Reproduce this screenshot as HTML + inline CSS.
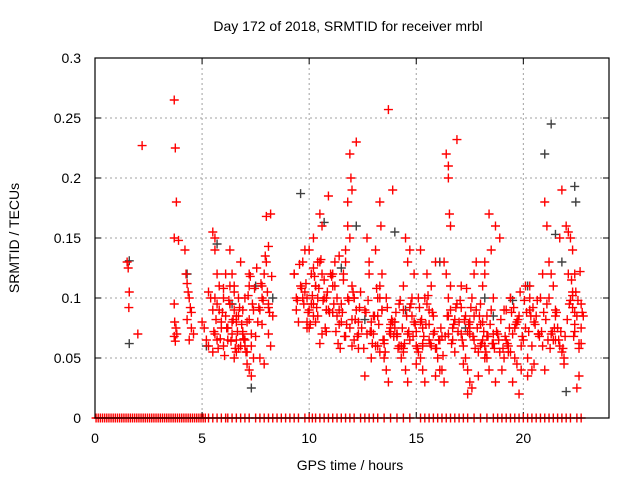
<!DOCTYPE html>
<html><head><meta charset="utf-8"><style>
body{margin:0;background:#fff}
svg text{font-family:"Liberation Sans",sans-serif;font-size:14px;fill:#000}
</style></head><body>
<svg id="chart" width="640" height="480" xmlns="http://www.w3.org/2000/svg">
<text x="348" y="31" text-anchor="middle">Day 172 of 2018, SRMTID for receiver mrbl</text>
<text x="350" y="470" text-anchor="middle">GPS time / hours</text>
<text transform="translate(19,238) rotate(-90)" text-anchor="middle">SRMTID / TECUs</text>
<g id="grid"></g>
<g id="ticks"></g>
<g id="marks"></g>
<rect x="95" y="58" width="514" height="360" fill="none" stroke="#000" stroke-width="1.2"/>
</svg>
<script>
const xTicks=[0,5,10,15,20];
const yTicks=[0,0.05,0.1,0.15,0.2,0.25,0.3];
const yTickLabels=["0","0.05","0.1","0.15","0.2","0.25","0.3"];
const redTimes=[1.5,1.55,1.6,1.58,2.2,2.0,3.7,3.75,3.8,3.7,3.9,3.7,3.72,3.78,3.7,3.75,3.82,4.2,4.25,4.3,4.35,4.4,4.45,4.5,4.3,4.5,4.6,4.4,5.0,5.1,5.2,5.3,5.3,5.4,5.5,5.5,5.6,5.6,5.7,5.8,5.6,5.7,5.8,5.9,5.9,5.6,5.7,5.5,6.0,6.1,6.2,6.3,6.4,6.5,6.6,6.7,6.8,6.9,6.0,6.2,6.4,6.6,6.8,6.1,6.3,6.5,6.7,6.9,6.2,6.4,6.6,6.3,6.5,6.5,6.7,7.0,7.1,7.2,7.3,7.4,7.0,7.2,7.4,7.1,7.3,7.0,7.2,7.3,7.1,7.6,7.7,7.8,7.9,8.0,8.1,8.2,7.7,7.9,8.1,8.3,8.0,8.1,7.8,8.2,9.3,9.4,9.4,9.5,9.3,9.6,9.7,9.8,9.9,10.0,10.1,10.2,10.3,10.4,10.5,10.6,10.7,10.8,10.9,9.7,9.9,10.1,10.3,10.5,10.7,10.9,9.8,10.0,10.2,10.4,10.6,10.8,10.0,10.3,10.6,10.4,10.2,11.0,11.1,11.2,11.3,11.4,11.5,11.6,11.7,11.8,11.9,12.0,12.1,12.2,12.3,12.4,11.1,11.3,11.5,11.7,11.9,12.1,12.3,11.2,11.4,11.6,11.8,12.0,12.2,11.9,11.95,12.0,11.8,12.1,12.6,12.7,12.8,12.9,12.6,12.8,12.7,12.9,13.0,13.1,13.2,13.3,13.4,13.5,13.6,13.7,13.8,13.9,13.0,13.2,13.4,13.6,13.8,13.1,13.3,13.5,13.7,13.9,13.3,13.35,13.3,13.4,14.0,14.1,14.2,14.3,14.4,14.5,14.6,14.7,14.8,14.9,14.0,14.2,14.4,14.6,14.8,14.1,14.3,14.5,14.7,14.9,14.4,14.6,15.0,15.1,15.2,15.3,15.4,15.5,15.6,15.7,15.8,15.9,15.1,15.3,15.5,15.7,15.9,15.0,15.2,15.4,15.6,15.8,15.2,15.3,16.0,16.1,16.2,16.3,16.4,16.5,16.6,16.7,16.8,16.9,16.1,16.3,16.5,16.7,16.9,16.4,16.5,16.5,16.55,16.6,16.5,16.6,17.0,17.1,17.2,17.3,17.4,17.5,17.6,17.7,17.8,17.9,17.1,17.3,17.5,17.7,17.9,17.2,17.4,17.6,17.8,17.5,17.5,18.0,18.1,18.2,18.3,18.4,18.5,18.6,18.7,18.8,18.9,18.1,18.3,18.5,18.7,18.9,18.0,18.2,18.4,18.6,18.2,18.2,18.1,19.0,19.1,19.2,19.3,19.4,19.5,19.6,19.7,19.8,19.9,19.1,19.3,19.5,19.7,19.9,19.2,19.4,19.6,19.8,19.4,20.0,20.1,20.2,20.3,20.4,20.5,20.6,20.7,20.8,20.9,20.1,20.3,20.5,20.7,20.9,20.2,20.4,20.3,21.0,21.1,21.2,21.3,21.4,21.5,21.6,21.7,21.8,21.9,21.1,21.3,21.5,21.7,21.9,21.0,21.5,21.2,21.4,21.8,22.0,22.1,22.2,22.3,22.4,22.5,22.6,22.7,22.8,22.1,22.3,22.5,22.7,22.2,22.4,22.6,22.3,22.35,22.3,22.4,22.4,22.6,22.7,
5.55,5.65,5.75,5.85,5.95,6.05,6.15,6.25,6.35,6.45,6.55,6.65,6.75,6.85,6.95,7.05,7.15,7.25,7.35,7.45,7.55,7.65,7.75,7.85,7.95,8.05,8.15,8.25,9.45,9.55,9.65,9.75,9.85,9.95,10.05,10.15,10.25,10.35,10.45,10.55,10.65,10.75,10.85,10.95,11.05,11.15,11.25,11.35,11.45,11.55,11.65,11.75,11.85,12.05,12.15,12.25,12.35,12.45,12.55,12.65,12.75,12.85,12.95,13.05,13.15,13.25,13.45,13.55,13.65,13.75,13.85,13.95,14.05,14.15,14.25,14.35,14.45,14.55,14.65,14.75,14.85,14.95,15.05,15.15,15.25,15.35,15.45,15.55,15.65,15.75,15.85,15.95,16.05,16.15,16.25,16.35,16.45,16.65,16.75,16.85,16.95,17.05,17.15,17.25,17.35,17.45,17.55,17.65,17.75,17.85,17.95,18.05,18.15,18.25,18.35,18.45,18.55,18.65,18.75,18.85,18.95,19.05,19.15,19.25,19.35,19.45,19.55,19.65,19.75,19.85,19.95,20.05,20.15,20.25,20.35,20.45,20.55,20.65,20.75,20.85,20.95,21.05,21.15,21.25,21.35,21.45,21.55,21.65,21.75,21.85,21.95,22.05,22.15,22.25,22.45,22.55,22.65,22.75,
6.0,6.3,6.6,6.9,7.2,7.5,7.8,8.1,9.9,10.2,10.5,10.8,11.1,11.4,11.7,12.0,12.3,12.9,13.2,13.5,13.8,14.1,14.4,14.7,15.0,15.3,15.6,15.9,16.2,16.8,17.1,17.4,17.7,18.0,18.3,18.6,18.9,19.2,19.5,19.8,20.1,20.4,20.7,21.0,21.3,21.6,21.9,22.2,22.5];
const redValues=[0.13,0.125,0.105,0.092,0.227,0.07,0.265,0.225,0.18,0.15,0.148,0.095,0.08,0.075,0.068,0.064,0.07,0.14,0.12,0.112,0.105,0.1,0.092,0.088,0.082,0.075,0.07,0.065,0.08,0.075,0.065,0.06,0.105,0.1,0.09,0.155,0.15,0.14,0.12,0.11,0.1,0.095,0.09,0.08,0.075,0.07,0.065,0.055,0.1,0.085,0.075,0.11,0.12,0.09,0.08,0.1,0.13,0.07,0.06,0.065,0.07,0.055,0.06,0.12,0.095,0.105,0.085,0.09,0.075,0.08,0.065,0.14,0.11,0.05,0.058,0.06,0.045,0.04,0.07,0.09,0.1,0.12,0.05,0.08,0.035,0.065,0.11,0.06,0.055,0.08,0.09,0.1,0.12,0.13,0.07,0.06,0.05,0.045,0.095,0.085,0.168,0.143,0.11,0.17,0.12,0.1,0.09,0.08,0.12,0.11,0.13,0.14,0.1,0.09,0.12,0.15,0.11,0.13,0.17,0.12,0.1,0.09,0.185,0.1,0.08,0.095,0.11,0.13,0.115,0.09,0.105,0.14,0.125,0.085,0.16,0.1,0.075,0.08,0.07,0.1,0.095,0.12,0.11,0.13,0.1,0.09,0.08,0.12,0.14,0.16,0.15,0.11,0.1,0.09,0.07,0.105,0.12,0.085,0.095,0.13,0.075,0.065,0.08,0.11,0.135,0.115,0.1,0.06,0.23,0.22,0.2,0.19,0.18,0.1,0.09,0.07,0.12,0.05,0.035,0.13,0.15,0.08,0.07,0.06,0.1,0.11,0.09,0.05,0.04,0.03,0.07,0.08,0.085,0.06,0.12,0.1,0.075,0.14,0.055,0.065,0.257,0.19,0.18,0.16,0.1,0.09,0.08,0.07,0.06,0.05,0.11,0.04,0.03,0.065,0.085,0.12,0.075,0.095,0.055,0.13,0.1,0.07,0.06,0.15,0.14,0.08,0.09,0.07,0.06,0.1,0.05,0.04,0.03,0.12,0.065,0.11,0.085,0.13,0.055,0.075,0.095,0.06,0.035,0.045,0.14,0.1,0.09,0.07,0.08,0.06,0.05,0.065,0.04,0.03,0.12,0.085,0.11,0.075,0.055,0.095,0.04,0.13,0.07,0.065,0.232,0.22,0.21,0.2,0.17,0.16,0.1,0.09,0.08,0.07,0.06,0.05,0.04,0.03,0.1,0.065,0.09,0.055,0.11,0.085,0.075,0.12,0.035,0.045,0.02,0.025,0.13,0.08,0.07,0.06,0.11,0.12,0.05,0.04,0.09,0.1,0.03,0.07,0.055,0.065,0.085,0.14,0.16,0.15,0.095,0.13,0.17,0.07,0.06,0.05,0.08,0.04,0.09,0.065,0.055,0.1,0.03,0.075,0.045,0.085,0.06,0.05,0.06,0.07,0.08,0.04,0.09,0.1,0.05,0.02,0.055,0.065,0.075,0.035,0.11,0.06,0.045,0.085,0.07,0.1,0.12,0.11,0.09,0.08,0.07,0.06,0.05,0.04,0.1,0.18,0.16,0.13,0.12,0.065,0.085,0.075,0.15,0.055,0.045,0.095,0.07,0.065,0.06,0.05,0.04,0.09,0.1,0.11,0.19,0.16,0.155,0.15,0.14,0.12,0.025,0.035,0.075,0.085,0.12,0.105,
0.085,0.062,0.098,0.072,0.058,0.092,0.068,0.102,0.078,0.088,0.062,0.095,0.072,0.082,0.058,0.066,0.088,0.052,0.075,0.098,0.064,0.082,0.058,0.072,0.092,0.078,0.066,0.055,0.102,0.118,0.095,0.108,0.125,0.092,0.112,0.098,0.135,0.105,0.088,0.118,0.098,0.128,0.108,0.095,0.112,0.088,0.078,0.102,0.118,0.092,0.108,0.132,0.098,0.075,0.105,0.088,0.118,0.095,0.072,0.062,0.058,0.088,0.068,0.078,0.098,0.105,0.082,0.068,0.092,0.075,0.058,0.088,0.098,0.072,0.062,0.085,0.108,0.078,0.065,0.055,0.092,0.072,0.082,0.068,0.088,0.058,0.098,0.075,0.062,0.085,0.072,0.095,0.068,0.078,0.058,0.092,0.082,0.068,0.078,0.102,0.062,0.088,0.072,0.058,0.065,0.075,0.052,0.068,0.085,0.062,0.078,0.092,0.072,0.098,0.065,0.082,0.108,0.078,0.092,0.068,0.058,0.075,0.085,0.062,0.072,0.055,0.068,0.078,0.062,0.058,0.072,0.065,0.082,0.058,0.068,0.062,0.075,0.088,0.092,0.078,0.082,0.105,0.068,0.098,0.088,0.072,0.085,0.092,0.078,0.098,0.068,0.072,0.088,0.082,0.065,0.058,0.072,
0.075,0.088,0.065,0.072,0.058,0.068,0.082,0.095,0.115,0.105,0.098,0.122,0.088,0.108,0.095,0.085,0.072,0.082,0.068,0.078,0.092,0.075,0.085,0.062,0.072,0.088,0.078,0.068,0.082,0.058,0.072,0.085,0.062,0.078,0.068,0.058,0.092,0.072,0.062,0.078,0.058,0.068,0.082,0.092,0.072,0.085,0.078,0.068,0.062];
const blackTimes=[1.6,1.6,4.3,5.2,5.7,6.4,7.3,7.5,8.3,9.6,10.7,11.5,12.2,12.6,14.0,14.5,16.1,17.3,18.2,18.6,19.5,20.2,21.0,21.3,21.5,21.8,22.0,22.4,22.45];
const blackValues=[0.131,0.062,0.12,0.06,0.145,0.095,0.025,0.11,0.1,0.187,0.163,0.125,0.16,0.082,0.155,0.09,0.13,0.075,0.1,0.085,0.098,0.11,0.22,0.245,0.153,0.13,0.022,0.193,0.18];
const zeroTimes=[0.05,0.15,0.25,0.35,0.45,0.55,0.65,0.75,0.85,0.95,1.05,1.15,1.25,1.35,1.45,1.55,1.65,1.75,1.85,1.95,2.05,2.15,2.25,2.35,2.45,2.55,2.65,2.75,2.85,2.95,3.05,3.15,3.25,3.35,3.45,3.55,3.65,3.75,3.85,3.95,4.05,4.15,4.25,4.35,4.45,4.55,4.65,4.75,4.85,4.95,5.05,5.15,5.3,5.5,5.7,5.9,6.1,6.2,6.4,6.6,6.8,7.0,7.2,7.5,7.7,7.9,8.1,8.3,8.5,8.7,8.9,9.1,9.3,9.5,9.8,10.0,10.15,10.3,10.5,10.7,10.9,11.1,11.3,11.5,11.7,11.9,12.1,12.4,12.6,12.8,13.0,13.2,13.5,13.8,14.1,14.4,14.7,15.2,15.4,15.6,15.8,16.0,16.2,16.4,16.6,16.8,17.0,17.2,17.4,17.7,18.0,18.3,18.6,18.8,19.0,19.2,19.4,19.6,19.8,20.0,20.2,20.4,20.6,20.8,21.0,21.2,21.4,21.6,21.8,22.0,22.2,22.5,22.7];
const svg=document.getElementById('chart');
const NS='http://www.w3.org/2000/svg';
const xs=t=>95+t*514/24;
const ys=v=>418-v*1200;
const grid=document.getElementById('grid'),ticks=document.getElementById('ticks'),marks=document.getElementById('marks');
function mk(tag,attrs,parent){const e=document.createElementNS(NS,tag);for(const k in attrs)e.setAttribute(k,attrs[k]);parent.appendChild(e);return e;}
xTicks.forEach(t=>{
 const x=xs(t);
 if(t>0){const g=mk('line',{x1:x,x2:x,y1:58,y2:418,stroke:'#a0a0a0','stroke-dasharray':'2,3'},grid);
 
 }
 mk('line',{x1:x,x2:x,y1:418,y2:412,stroke:'#000'},ticks);mk('line',{x1:x,x2:x,y1:58,y2:64,stroke:'#000'},ticks);
 const l=mk('text',{x:x,y:443,'text-anchor':'middle'},ticks);l.textContent=t;
 
 
});
yTicks.forEach((v,i)=>{
 const y=ys(v);
 if(v>0&&v<0.3){const g=mk('line',{x1:95,x2:609,y1:y,y2:y,stroke:'#a0a0a0','stroke-dasharray':'2,3'},grid);
 
 }
 mk('line',{x1:95,x2:101,y1:y,y2:y,stroke:'#000'},ticks);mk('line',{x1:603,x2:609,y1:y,y2:y,stroke:'#000'},ticks);
 const l=mk('text',{x:81,y:y+5,'text-anchor':'end'},ticks);l.textContent=yTickLabels[i];
 
 
});
function cross(t,v,c,name){
 const x=xs(t),y=ys(v);
 const p=mk('path',{d:`M${x-4.5},${y}h9M${x},${y-4.5}v9`,stroke:c,'stroke-width':1.4,fill:'none'},marks);
 
 
}
zeroTimes.forEach(t=>cross(t,0,'#f00','zero-point'));
blackTimes.forEach((t,i)=>cross(t,blackValues[i],'#404040','black-point'));
redTimes.forEach((t,i)=>cross(t,redValues[i],'#f00','red-point'));
</script>
</body></html>
